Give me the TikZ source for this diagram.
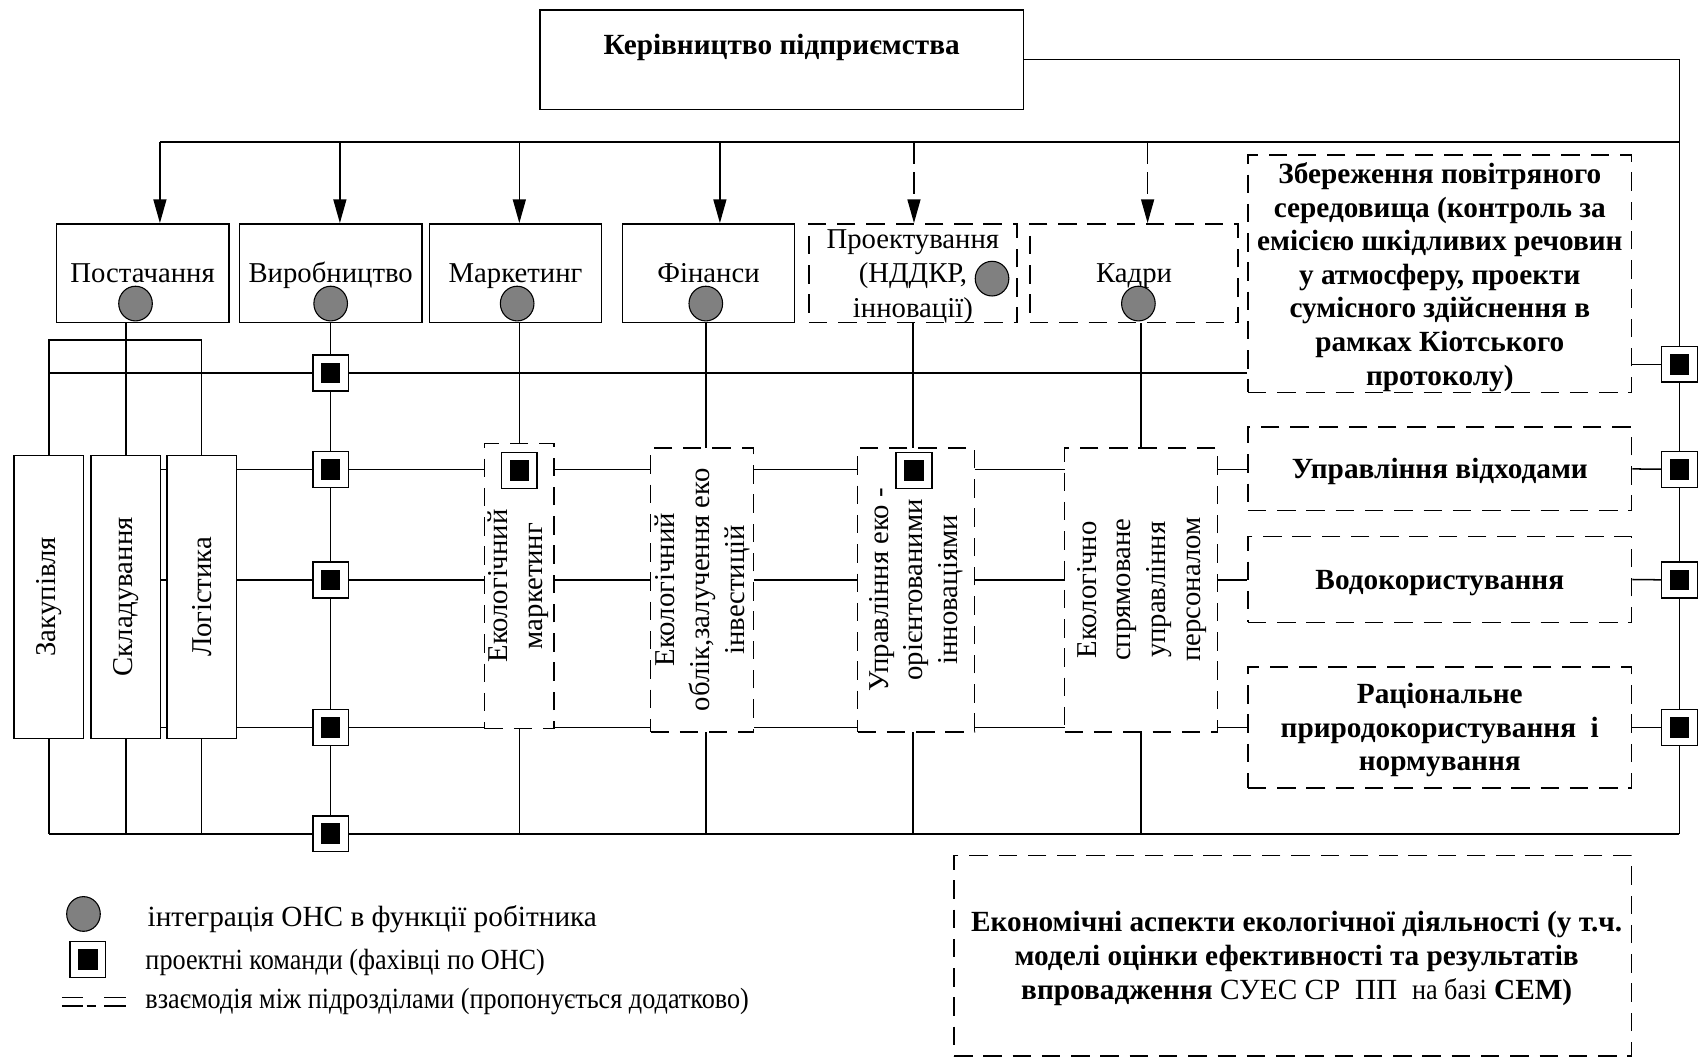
\documentclass[tikz,border=0pt]{standalone}
\usepackage{fontspec}
\setmainfont{Liberation Serif}
\newfontfamily\condf[FakeStretch=0.895]{Liberation Serif}
\usetikzlibrary{arrows.meta,shapes.geometric,backgrounds}
\definecolor{dotgray}{RGB}{128,128,128}
\begin{document}
\begin{tikzpicture}[x=1pt,y=-1pt,
  ln/.style={line width=1.4pt},
  arr/.style={ln,-{Triangle[length=22pt,width=12pt]}},
  darr/.style={arr,dash pattern=on 20pt off 8pt},
  sbox/.style={draw,line width=1.4pt,fill=white,inner sep=0pt},
  dbox/.style={draw,line width=1.4pt,fill=white,inner sep=0pt,dash pattern=on 17pt off 10pt},
  reg/.style={font=\fontsize{26.5}{32}\selectfont,align=center,inner sep=0pt},
  bld/.style={font=\fontsize{27}{31}\selectfont\bfseries,align=center,inner sep=0pt},
  oner/.style={text height=17.5pt,text depth=0pt},
  oneb/.style={text height=17.9pt,text depth=0pt},
  legt/.style={font=\fontsize{27}{32}\selectfont,inner sep=0pt,anchor=base west},
  legc/.style={font=\fontsize{27}{32}\selectfont\condf,inner sep=0pt,anchor=base west},
  circ/.style={ellipse,draw=black,line width=1pt,fill=dotgray,minimum width=31pt,minimum height=32pt,inner sep=0pt},
  sq/.style={draw,line width=1.4pt,fill=white,minimum width=33pt,minimum height=33pt,inner sep=0pt,
    path picture={\fill[black] ([xshift=-9pt,yshift=-9.5pt]path picture bounding box.center) rectangle ([xshift=9pt,yshift=9.5pt]path picture bounding box.center);}}
]
\useasboundingbox (0,0) rectangle (1568,976);

% ---------- coordinates ----------
\coordinate (tbL) at (147.5,131);
\coordinate (tbR) at (1549,131);
\coordinate (rbTop) at (1549,55);
\coordinate (busBL) at (45,769);
\coordinate (busBR) at (1549,769);
\coordinate (fr) at (45,313.6);
\coordinate (h1L) at (45,344);
\coordinate (r1) at (116,433);
\coordinate (r2) at (116,535);
\coordinate (r3) at (116,671);
\coordinate (a1) at (147.5,131);
\coordinate (a2) at (313.5,131);
\coordinate (a3) at (479,131);
\coordinate (a4) at (664,131);
\coordinate (a5) at (843,131);
\coordinate (a6) at (1058.5,131);

% ---------- top box ----------
\node[sbox,minimum width=446pt,minimum height=92pt] (top) at (721,55) {};
\node[bld,oneb] (topT) at (721,41) {Керівництво підприємства};

% ---------- departments ----------
\node[sbox,reg,oner,minimum width=159pt,minimum height=91pt] (post) at (131.5,252) {Постачання};
\node[sbox,reg,oner,minimum width=168pt,minimum height=91pt] (vyr) at (305,252) {Виробництво};
\node[sbox,reg,oner,minimum width=159pt,minimum height=91pt] (mark) at (475.5,252) {Маркетинг};
\node[sbox,reg,oner,minimum width=159pt,minimum height=91pt] (fin) at (653.5,252) {Фінанси};
\node[dbox,minimum width=192pt,minimum height=91pt] (proj) at (842,252) {};
\node[reg] (projT) at (842,255) {Проектування\\(НДДКР,\\інновації)};
\node[dbox,reg,oner,minimum width=192pt,minimum height=91pt] (kadr) at (1046,252) {Кадри};

% ---------- vertical boxes ----------
\node[sbox,minimum width=64pt,minimum height=261pt] (zak) at (45,550.5) {};
\node[sbox,minimum width=64pt,minimum height=261pt] (skl) at (116,550.5) {};
\node[sbox,minimum width=64pt,minimum height=261pt] (log) at (186,550.5) {};
\node[reg,rotate=90] (zakT) at (zak) {Закупівля};
\node[reg,rotate=90] (sklT) at (skl) {Складування};
\node[reg,rotate=90] (logT) at (log) {Логістика};

\node[dbox,minimum width=64pt,minimum height=263pt] (emark) at (479,540.5) {};
\node[dbox,minimum width=95pt,minimum height=262pt] (eobl) at (647.5,544) {};
\node[dbox,minimum width=108pt,minimum height=262pt] (einn) at (845,544) {};
\node[dbox,minimum width=141pt,minimum height=262pt] (epers) at (1052.5,544) {};
\node[reg,rotate=90] (emarkT) at (478,540.5) {Екологічний\\маркетинг};
\node[reg,rotate=90] (eoblT) at (648,544) {Екологічний\\облік,залучення еко\\інвестицій};
\node[reg,rotate=90] (einnT) at (845,544) {Управління еко -\\орієнтованими\\інноваціями};
\node[reg,rotate=90] (epersT) at (1053,544) {Екологічно\\спрямоване\\управління\\персоналом};

% ---------- right boxes ----------
\node[dbox,minimum width=354pt,minimum height=219pt] (zber) at (1328,252.5) {};
\node[bld] (zberT) at (1328,255.5) {Збереження повітряного\\середовища (контроль за\\емісією шкідливих речовин\\у атмосферу, проекти\\сумісного здійснення в\\рамках Кіотського\\протоколу)};
\node[dbox,bld,oneb,minimum width=354pt,minimum height=77pt] (vidh) at (1328,432.5) {Управління відходами};
\node[dbox,bld,oneb,minimum width=354pt,minimum height=79pt] (vodo) at (1328,534.5) {Водокористування};
\node[dbox,minimum width=354pt,minimum height=112pt] (rats) at (1328,671) {};
\node[bld] (ratsT) at (1328,673.5) {Раціональне\\природокористування\ \ і\\нормування};
\node[dbox,minimum width=625pt,minimum height=185pt] (econ) at (1192.5,881.5) {};
\node[bld] (econT) at (1196,884) {Економічні аспекти екологічної діяльності (у т.ч.\\моделі оцінки ефективності та результатів\\впровадження {\mdseries СУЕС СР\ \ ПП\ \ {\condf на базі}} СЕМ)};

% ---------- circles ----------
\node[circ] (cP) at (125,280) {};
\node[circ] (cV) at (305,280) {};
\node[circ] (cM) at (477,280) {};
\node[circ] (cF) at (651,280) {};
\node[circ] (cPr) at (915,257) {};
\node[circ] (cK) at (1050,280) {};

% ---------- squares ----------
\node[sq] (sqA) at (305,344) {};
\node[sq] (sqB) at (305,433) {};
\node[sq] (sqC) at (305,535) {};
\node[sq] (sqD) at (305,671) {};
\node[sq] (sqE) at (305,769) {};
\node[sq] (sqM) at (479,434) {};
\node[sq] (sqI) at (843,434) {};
\node[sq] (sqR0) at (1549,336) {};
\node[sq] (sqR1) at (1549,433) {};
\node[sq] (sqR2) at (1549,535) {};
\node[sq] (sqR3) at (1549,671) {};

% ---------- connectors (behind) ----------
\begin{scope}[on background layer]
\draw[ln] (top.east) -- (rbTop) -- (busBR);
\draw[ln] (tbL) -- (tbR);
\draw[ln] (zak.north) -- (zak.north |- fr) -| (log.north);
\draw[ln] (post.south -| skl.north) -- (skl.north);
\draw[ln] (h1L) -- (h1L -| zber.west);
\draw[ln] (zak.south) -- (zak.south |- busBL);
\draw[ln] (skl.south) -- (skl.south |- busBL);
\draw[ln] (log.south) -- (log.south |- busBL);
\draw[ln] (busBL) -- (busBR);
\draw[ln] (cV) -- (cV |- busBL);
\draw[ln] (cM.south -| emark.north) -- (emark.north);
\draw[ln] (emark.south) -- (emark.south |- busBL);
\draw[ln] (cF) -- (cF |- busBL);
\draw[ln] (proj.south) -- (proj.south |- busBL);
\draw[ln] (cK.south -| epers.north) -- (epers.north |- busBL);
\draw[ln] (r1) -- (r1 -| vidh.west);
\draw[ln] (r2) -- (r2 -| vodo.west);
\draw[ln] (r3) -- (r3 -| rats.west);
\draw[ln] (zber.east |- sqR0) -- (sqR0);
\draw[ln] (vidh.east) -- (sqR1);
\draw[ln] (vodo.east) -- (sqR2);
\draw[ln] (rats.east) -- (sqR3);
\end{scope}

% ---------- arrows ----------
\draw[arr] (a1) -- (a1 |- post.north);
\draw[arr] (a2) -- (a2 |- vyr.north);
\draw[arr] (a3) -- (a3 |- mark.north);
\draw[arr] (a4) -- (a4 |- fin.north);
\draw[darr] (a5) -- (a5 |- proj.north);
\draw[darr] (a6) -- (a6 |- kadr.north);

% ---------- legend ----------
\node[circ] (lc) at (77,843) {};
\node[sq] (ls) at (81,885) {};
\draw[line width=1.2pt] (57,920) -- (77,920) (96,920) -- (116,920);
\draw[line width=1.2pt] (57,928) -- (77,928) (80,928) -- (89,928) (96,928) -- (116,928);
\node[legt] (lt1) at (136,855) {інтеграція ОНС в функції робітника};
\node[legc] (lt2) at (134,894) {проектні команди (фахівці по ОНС)};
\node[legc] (lt3) at (134,930) {взаємодія між підрозділами (пропонується додатково)};
\end{tikzpicture}
\end{document}
